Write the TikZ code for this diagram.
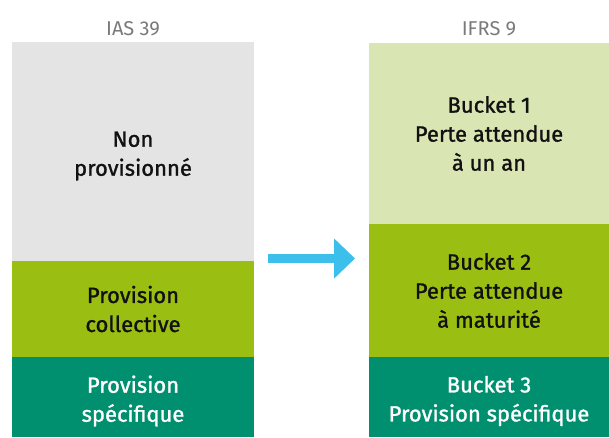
\documentclass[tikz,border=0pt]{standalone}
\usepackage{fontspec}
\setmainfont{Fira Sans}
\newfontfamily\medfont{Fira Sans}[FakeBold=1.2]
\usetikzlibrary{arrows.meta}
\definecolor{cgrey}{HTML}{E3E4E3}
\definecolor{clight}{HTML}{D9E5B2}
\definecolor{cgreen}{HTML}{9BBE12}
\definecolor{cteal}{HTML}{00906F}
\definecolor{carrow}{HTML}{3CBFEB}
\definecolor{ctitle}{HTML}{7A7A7A}
\definecolor{ctext}{HTML}{111111}
\begin{document}
\begin{tikzpicture}[x=1pt,y=-1pt,
  box/.style={inner sep=0pt,outer sep=0pt,anchor=north west},
  lbl/.style={inner sep=0pt,align=center,anchor=center,
    font=\medfont\fontsize{22}{29}\selectfont,text=ctext},
  title/.style={inner sep=0pt,anchor=base,text=ctitle,font=\fontsize{20}{24}\selectfont}]
\useasboundingbox (0,0) rectangle (609,437);
% left column
\node[box,fill=cgrey,minimum width=242pt,minimum height=219pt] (nonprov) at (12,42) {};
\node[box,fill=cgreen,minimum width=242pt,minimum height=96pt] (collect) at (12,261) {};
\node[box,fill=cteal,minimum width=242pt,minimum height=80pt] (specif) at (12,357) {};
% right column
\node[box,fill=clight,minimum width=240pt,minimum height=181pt] (b1) at (369,43) {};
\node[box,fill=cgreen,minimum width=240pt,minimum height=133pt] (b2) at (369,224) {};
\node[box,fill=cteal,minimum width=240pt,minimum height=80pt] (b3) at (369,357) {};
% labels
\node[lbl] (tnon) at ([yshift=-4.5pt]nonprov.center) {Non\\provisionné};
\node[lbl] (tcol) at (collect.center) {Provision\\collective};
\node[lbl,text=white] (tspe) at ([yshift=-4pt]specif.center) {Provision\\spécifique};
\node[lbl] (tb1) at (b1.center) {Bucket 1\\Perte attendue\\à un an};
\node[lbl] (tb2) at (b2.center) {Bucket 2\\Perte attendue\\à maturité};
\node[lbl,text=white] (tb3) at ([yshift=-4pt]b3.center) {Bucket 3\\Provision spécifique};
% titles
\node[title] (ias) at (133,35) {IAS 39};
\node[title] (ifrs) at (489,35.5) {IFRS 9};
% arrow
\coordinate (as) at (268,258.5);
\coordinate (ae) at (355,258.5);
\draw[carrow,line width=8.4pt,-{Triangle[length=21pt,width=39pt]}] (as) -- (ae);
\end{tikzpicture}
\end{document}
